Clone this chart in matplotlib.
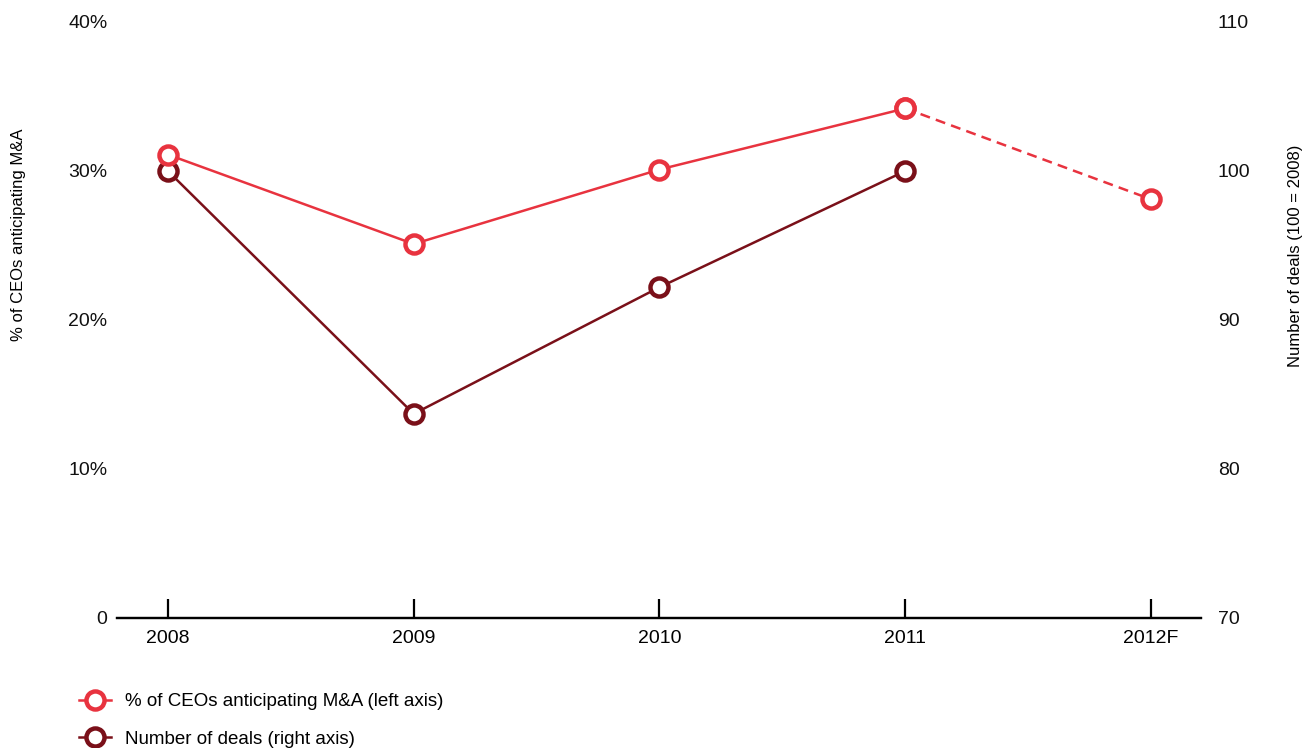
import numpy as np
import matplotlib.pyplot as plt

plt.rcParams['font.family'] = ['Liberation Sans', 'DejaVu Sans']

# data
years = ['2008', '2009', '2010', '2011', '2012F']
ceo_pct = [31.1, 25.1, 30.1, 34.2, 28.1]      # left axis, %
deals = [100.0, 83.7, 92.2, 100.0]            # right axis, index 100 = 2008
left_ticks = [0, 10, 20, 30, 40]
left_labels = ['0', '10%', '20%', '30%', '40%']
right_ticks = [70, 80, 90, 100, 110]

red = '#e8333f'
dark = '#7a1019'
fs = 14

fig = plt.figure(figsize=(13.06, 7.48), dpi=100)
ax = fig.add_axes([0.0896, 0.1738, 0.83, 0.7968])
ax2 = ax.twinx()

x = np.arange(len(years))
mk = dict(marker='o', markersize=13, markerfacecolor='white', markeredgewidth=3.2, lw=1.8)

# actuals solid, forecast dashed
ax.plot(x[:4], ceo_pct[:4], color=red, zorder=3, **mk)
ax.plot(x[3:], ceo_pct[3:], color=red, ls=(0, (4, 2.5)), zorder=3, **mk)
ax2.plot(x[:4], deals, color=dark, zorder=2, **mk)
# red line on top of the dark one
ax.set_zorder(ax2.get_zorder() + 1)
ax.patch.set_visible(False)

ax.set_xlim(-0.207, 4.203)
ax.set_ylim(0, 40)
ax2.set_ylim(70, 110)
ax.set_yticks(left_ticks)
ax.set_yticklabels(left_labels)
ax2.set_yticks(right_ticks)
ax.set_xticks(x)
ax.set_xticklabels(years)

for a in (ax, ax2):
    for s in ['left', 'right', 'top']:
        a.spines[s].set_visible(False)
    a.spines['bottom'].set_linewidth(1.6)
    a.tick_params(axis='y', length=0, labelsize=fs, colors='#111111')
ax.tick_params(axis='y', pad=7)
ax2.tick_params(axis='y', pad=12)
ax.tick_params(axis='x', direction='in', length=14, width=1.6, labelsize=fs, pad=9)

fig.text(0.0145, 0.686, '% of CEOs anticipating M&A', rotation=90, ha='center', va='center', fontsize=12)
fig.text(0.992, 0.658, 'Number of deals (100 = 2008)', rotation=90, ha='center', va='center', fontsize=12)

h1, = ax.plot([], [], color=red, **mk)
h2, = ax.plot([], [], color=dark, **mk)
fig.legend([h1, h2], ['% of CEOs anticipating M&A (left axis)', 'Number of deals (right axis)'],
           loc='upper left', bbox_to_anchor=(0.053, 0.086), frameon=False, fontsize=13.5,
           handlelength=1.75, handletextpad=0.75, labelspacing=1.1, borderpad=0)

fig.savefig('out.png', dpi=100)
